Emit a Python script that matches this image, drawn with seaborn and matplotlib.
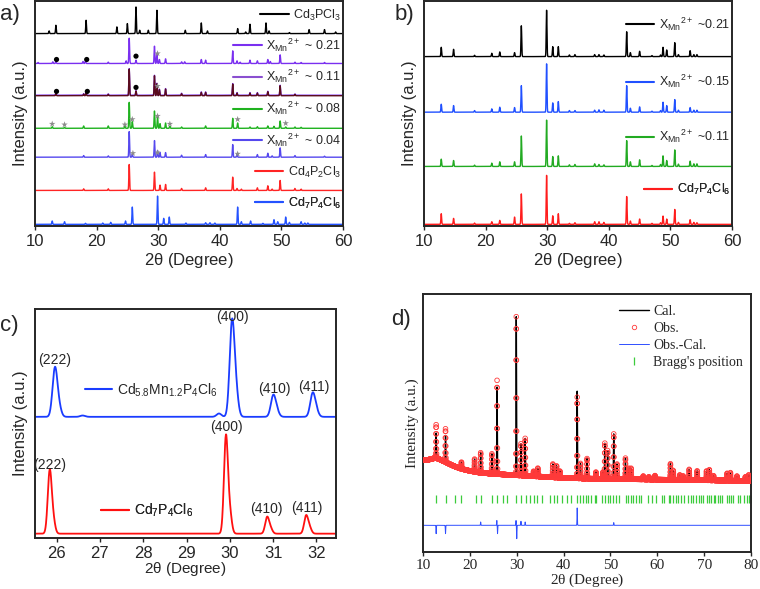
import numpy as np
import seaborn as sns
import matplotlib
matplotlib.use('Agg')
import matplotlib.pyplot as plt
from matplotlib.lines import Line2D

# ---------------- data ----------------
# panel a: peak positions (2theta) / heights for each stacked trace, plus baseline offsets
a_labels = [r'Cd$_3$PCl$_3$', r'X$_{Mn}$$^{2+}$ ~ 0.21', r'X$_{Mn}$$^{2+}$ ~ 0.11',
            r'X$_{Mn}$$^{2+}$ ~ 0.08', r'X$_{Mn}$$^{2+}$ ~ 0.04', r'Cd$_4$P$_2$Cl$_3$',
            r'Cd$_7$P$_4$Cl$_6$']
a_offsets = [579, 489, 392, 294, 207, 107, 5]

cd3_pos = [12.3, 13.4, 18.3, 23.3, 25.0, 26.4, 27.0, 28.4, 29.8, 34.4, 37.0, 38.0, 42.9, 44.2,
           44.9, 47.5, 48.0, 51.3, 54.5, 57.0, 58.8]
cd3_h = [8, 25, 40, 20, 30, 80, 10, 10, 70, 10, 32, 8, 15, 5, 28, 32, 8, 3, 12, 12, 5]

x21_pos = [10.5, 12.9, 13.4, 17.8, 18.2, 21.9, 24.8, 25.3, 26.4, 29.4, 29.8, 30.2, 31.2, 33.8,
           34.3, 37.0, 37.7, 42.1, 42.8, 43.3, 44.9, 46.1, 47.8, 48.2, 49.8, 52.2, 53.2, 57.0]
x21_h = [3, 5, 6, 6, 8, 4, 8, 76, 10, 52, 30, 12, 14, 5, 5, 12, 10, 38, 8, 4, 10, 8, 12, 6, 26,
         4, 3, 3]

x11_pos = [13.4, 17.9, 18.3, 21.9, 25.3, 26.4, 29.4, 29.8, 30.2, 31.2, 33.8, 37.0, 37.7, 42.1,
           42.8, 44.9, 46.1, 47.8, 49.8, 52.2]
x11_h = [6, 5, 8, 4, 80, 14, 60, 36, 18, 20, 6, 10, 10, 35, 8, 8, 8, 12, 30, 4]

x08_pos = [12.8, 14.8, 17.9, 21.9, 24.6, 25.3, 25.8, 29.4, 29.9, 30.3, 31.2, 31.9, 33.8, 37.7,
           42.1, 42.9, 44.9, 46.1, 47.8, 48.8, 49.8, 50.7, 52.2, 53.2]
x08_h = [5, 3, 7, 7, 6, 78, 20, 52, 36, 14, 16, 6, 4, 7, 30, 16, 4, 5, 7, 6, 22, 4, 4, 3]

x04_pos = [17.9, 21.9, 25.3, 25.8, 29.4, 29.9, 30.3, 31.2, 33.8, 37.7, 42.1, 42.8, 46.1, 47.8,
           48.5, 49.8, 52.2, 57.0]
x04_h = [5, 4, 77, 10, 50, 20, 14, 14, 6, 8, 38, 10, 8, 12, 4, 28, 5, 3]

cd4_pos = [17.9, 21.9, 25.3, 29.4, 30.3, 31.2, 33.8, 37.7, 42.1, 42.8, 43.5, 46.1, 47.8, 48.5,
           49.8, 52.2, 53.2]
cd4_h = [5, 5, 78, 55, 16, 18, 6, 8, 40, 6, 4, 8, 14, 4, 30, 6, 4]

cd7_pos = [12.8, 14.8, 18.2, 21.0, 22.3, 24.7, 25.8, 29.9, 30.9, 31.8, 34.5, 37.7, 38.4, 39.2,
           42.9, 43.5, 45.0, 47.0, 48.8, 49.4, 50.7, 51.3, 53.2, 53.8, 54.3]
cd7_h = [10, 8, 3, 4, 6, 10, 52, 85, 18, 22, 4, 5, 5, 4, 52, 8, 10, 3, 14, 8, 22, 6, 8, 4, 4]

a_dots_x = [13.5, 18.4, 26.4, 13.5, 18.5, 26.4]
a_dots_y = [501, 501, 511, 405, 405, 417]
a_stars_x = [29.9, 29.9, 12.8, 14.8, 24.6, 25.8, 29.9, 31.9, 42.9, 50.7, 25.9, 29.9, 42.9]
a_stars_y = [519, 421, 307, 305, 305, 321, 331, 307, 321, 309, 219, 221, 217]

# panel b: Cd7P4Cl6-type pattern for each Mn content
b_labels = [r'X$_{Mn}$$^{2+}$ ~0.21', r'X$_{Mn}$$^{2+}$ ~0.15', r'X$_{Mn}$$^{2+}$ ~0.11',
            r'Cd$_7$P$_4$Cl$_6$']
b_offsets = [512, 344, 180, 5]
b_pos = [12.8, 14.8, 18.2, 21.0, 22.3, 24.7, 25.8, 29.9, 30.9, 31.8, 33.6, 34.5, 37.7, 38.4,
         39.2, 42.9, 43.5, 45.0, 47.0, 48.4, 48.8, 49.4, 50.7, 51.3, 53.2, 53.8, 54.3]
b_h021 = [28, 22, 4, 10, 14, 12, 93, 140, 30, 30, 5, 6, 6, 6, 5, 75, 12, 16, 3, 5, 28, 20, 42,
          6, 18, 6, 6]
b_h015 = [24, 20, 5, 10, 15, 14, 80, 146, 28, 32, 5, 5, 6, 7, 6, 80, 12, 16, 3, 5, 30, 20, 38,
          6, 14, 6, 6]
b_h011 = [22, 18, 4, 10, 14, 14, 92, 140, 30, 32, 5, 6, 8, 6, 5, 78, 14, 20, 3, 6, 32, 18, 50,
          7, 16, 8, 8]
b_h000 = [32, 18, 4, 8, 12, 22, 92, 148, 26, 32, 3, 5, 8, 8, 6, 84, 10, 16, 3, 5, 25, 16, 45,
          6, 14, 6, 5]

# panel c: zoom 25.5-32.5
c_red_pos = [25.84, 25.92, 29.91, 30.0, 30.86, 30.94, 31.76, 31.84]
c_red_h = [185, 40, 290, 60, 48, 15, 52, 18]
c_blue_pos = [25.96, 26.05, 26.6, 29.75, 30.05, 30.14, 31.0, 31.08, 31.91, 31.99]
c_blue_h = [142, 30, 4, 10, 275, 72, 60, 18, 66, 20]
c_red_base, c_blue_base = 13, 364
c_hkl = ['(222)', '(400)', '(410)', '(411)']
c_red_lab_x = [25.83, 29.92, 30.85, 31.77]
c_red_lab_y = [220, 332, 88, 90]
c_blue_lab_x = [25.95, 30.06, 31.02, 31.95]
c_blue_lab_y = [535, 665, 447, 453]

# panel d: Rietveld refinement
d_bg_x = [10, 11, 12.7, 13.5, 15, 16.5, 18, 20, 22, 25, 30, 35, 40, 45, 50, 55, 60, 65, 70, 75, 80]
d_bg_y = [275, 276, 282, 278, 268, 258, 250, 243, 238, 234, 230, 226, 222, 220, 219, 218, 217,
          216, 215, 214, 213]
d_pos = [12.8, 14.8, 18.2, 21.0, 22.3, 24.7, 25.8, 29.9, 30.9, 31.8, 33.6, 34.5, 37.7, 38.5,
         39.2, 42.9, 43.6, 45.0, 46.9, 48.4, 48.8, 49.4, 50.7, 51.4, 53.2, 53.9, 54.4, 57.0,
         58.2, 59.5, 62.8, 63.4, 64.8, 65.5, 66.8, 68.5, 70.5, 71.1, 72.0, 74.9, 75.6, 77.0,
         78.8, 79.5]
d_cal_h = [75, 80, 20, 38, 60, 60, 261, 475, 95, 112, 15, 25, 40, 35, 20, 261, 45, 60, 20, 20,
           107, 85, 135, 45, 63, 33, 33, 10, 8, 12, 48, 28, 15, 12, 32, 28, 28, 32, 14, 22, 24,
           14, 12, 18]
d_obs_h = [100, 100, 20, 38, 60, 60, 281, 475, 95, 112, 15, 25, 40, 35, 20, 243, 45, 60, 20,
           20, 107, 85, 135, 45, 63, 33, 33, 10, 8, 12, 48, 28, 15, 12, 32, 28, 28, 32, 14, 22,
           24, 14, 12, 18]
d_diff_pos = [12.8, 14.8, 22.3, 25.75, 25.9, 29.85, 30.0, 30.9, 31.8, 42.9, 50.7]
d_diff_amp = [-25, -25, 10, 15, -25, 15, -40, 12, 10, 52, 8]
d_diff_base = 80
d_bragg_y = 160
d_bragg = [12.85, 15.0, 16.8, 18.2, 21.25, 22.3, 24.8, 25.8, 27.0, 28.0, 29.9, 31.0, 31.9, 32.8,
           33.6, 34.4, 35.3, 37.1, 37.9, 38.6, 39.6, 40.8, 41.5, 42.9, 43.5, 44.2, 44.8, 45.3,
           45.9, 46.7, 47.0, 48.2, 48.8, 49.4, 50.0, 50.6, 51.2, 51.9, 53.3, 53.8, 54.3, 54.9,
           55.4, 56.0, 56.6, 58.1, 58.8, 59.7, 60.9, 61.4, 62.4, 62.8, 63.4, 63.9, 64.5, 65.1,
           65.6, 66.6, 67.1, 67.7, 68.2, 68.8, 69.3, 69.7, 70.5, 71.0, 71.5, 72.0, 72.4, 72.9,
           73.4, 73.9, 74.8, 75.3, 75.8, 76.2, 77.2, 77.7, 78.6, 79.1, 79.5, 79.9]


def profile(x, pos, h, sigma):
    # sum of gaussian peaks
    y = np.zeros_like(x)
    for p, hh in zip(pos, h):
        y += hh * np.exp(-0.5 * ((x - p) / sigma) ** 2)
    return y


def trace_legend(ax, color, label, y, fs, loc='center right', x=1.0, hl=2.3):
    leg = ax.legend([Line2D([], [], color=color, lw=1.5)], [label], loc=loc,
                    bbox_to_anchor=(x, y), frameon=False, fontsize=fs, handlelength=hl,
                    handletextpad=0.35, borderaxespad=0, borderpad=0.15)
    ax.add_artist(leg)


sns.set_theme(style='ticks')
plt.rcParams['font.family'] = ['Liberation Sans', 'DejaVu Sans']
plt.rcParams['mathtext.default'] = 'regular'
plt.rcParams['axes.linewidth'] = 1.4

fig = plt.figure(figsize=(7.6, 5.89), dpi=100)
ax_a = fig.add_axes([0.046, 0.6163, 0.4053, 0.3820])
ax_b = fig.add_axes([0.5579, 0.6163, 0.4053, 0.3820])
ax_c = fig.add_axes([0.046, 0.0866, 0.3960, 0.3888])
ax_d = fig.add_axes([0.5566, 0.0628, 0.4316, 0.4380])

# ---------------- panel a ----------------
xa = np.arange(10, 60.001, 0.01)
a_peaks = [(cd3_pos, cd3_h), (x21_pos, x21_h), (x11_pos, x11_h), (x08_pos, x08_h),
           (x04_pos, x04_h), (cd4_pos, cd4_h), (cd7_pos, cd7_h)]
a_colors = ['#000000', '#7a2ff0', '#5a0c1c', '#1fb21f', '#5548ee', '#ff2424', '#2452ff']
a_leg_colors = ['#000000', '#7a2ff0', '#8a4fd0', '#1fb21f', '#5548ee', '#ff2424', '#2452ff']
a_leg_y = [0.938, 0.804, 0.663, 0.522, 0.381, 0.240, 0.102]
for (pos, h), off, col in zip(a_peaks, a_offsets, a_colors):
    ya = off + profile(xa, pos, h, 0.06)
    if col == '#5a0c1c':
        sns.lineplot(x=xa, y=ya + 1.5, ax=ax_a, color='#7a2ff0', lw=1.0, estimator=None)
    sns.lineplot(x=xa, y=ya, ax=ax_a, color=col, lw=1.0, estimator=None)
for lab, col, yl in zip(a_labels, a_leg_colors, a_leg_y):
    trace_legend(ax_a, col, lab, yl, 9)
sns.scatterplot(x=a_dots_x, y=a_dots_y, ax=ax_a, color='black', s=14, marker='o',
                edgecolor='none', zorder=5)
sns.scatterplot(x=a_stars_x, y=a_stars_y, ax=ax_a, color='#8c8c8c', s=24, marker='*',
                edgecolor='none', zorder=5)
ax_a.set(xlim=(10, 60), ylim=(0, 677), yticks=[])
ax_a.set_xticks(range(10, 61, 10))

# ---------------- panel b ----------------
b_heights = [b_h021, b_h015, b_h011, b_h000]
b_colors = ['#000000', '#2050ff', '#22aa22', '#ff1c1c']
b_leg_y = [0.897, 0.641, 0.397, 0.161]
for h, off, col in zip(b_heights, b_offsets, b_colors):
    sns.lineplot(x=xa, y=off + profile(xa, b_pos, h, 0.06), ax=ax_b, color=col, lw=1.0,
                 estimator=None)
for lab, col, yl in zip(b_labels, b_colors, b_leg_y):
    trace_legend(ax_b, col, lab, yl, 9)
ax_b.set(xlim=(10, 60), ylim=(0, 680), yticks=[])
ax_b.set_xticks(range(10, 61, 10))

# ---------------- panel c ----------------
xc = np.arange(25.5, 32.5, 0.005)
sns.lineplot(x=xc, y=c_blue_base + profile(xc, c_blue_pos, c_blue_h, 0.055), ax=ax_c,
             color='#1a3cff', lw=1.3, estimator=None)
sns.lineplot(x=xc, y=c_red_base + profile(xc, c_red_pos, c_red_h, 0.045), ax=ax_c,
             color='#ff1010', lw=1.3, estimator=None)
for lab, xl, yl in zip(c_hkl, c_blue_lab_x, c_blue_lab_y):
    ax_c.text(xl, yl, lab, ha='center', va='center', fontsize=10)
for lab, xl, yl in zip(c_hkl, c_red_lab_x, c_red_lab_y):
    ax_c.text(xl, yl, lab, ha='center', va='center', fontsize=10)
trace_legend(ax_c, '#1a3cff', r'Cd$_{5.8}$Mn$_{1.2}$P$_4$Cl$_6$', 0.647, 10,
             loc='center left', x=0.158, hl=2.0)
trace_legend(ax_c, '#ff1010', r'Cd$_7$P$_4$Cl$_6$', 0.121, 10, loc='center left', x=0.213,
             hl=2.0)
ax_c.set(xlim=(25.5, 32.45), ylim=(0, 688), yticks=[])
ax_c.set_xticks(range(26, 33))

for ax in (ax_a, ax_b, ax_c):
    ax.tick_params(axis='x', labelsize=12, length=3, width=1, pad=3)
    ax.set_xlabel(r'2$\theta$ (Degree)', fontsize=12, labelpad=1)
    ax.set_ylabel('Intensity (a.u.)', fontsize=12, labelpad=5)
ax_c.xaxis.labelpad = -1
ax_c.xaxis.label.set_size(11)

# ---------------- panel d ----------------
serif = ['Liberation Serif', 'DejaVu Serif']
xd = np.arange(10, 80.001, 0.02)
bg = np.interp(xd, d_bg_x, d_bg_y)
y_cal = bg + profile(xd, d_pos, d_cal_h, 0.05)
y_obs = bg + profile(xd, d_pos, d_obs_h, 0.05)
y_diff = d_diff_base + profile(xd, d_diff_pos, d_diff_amp, 0.04)
sns.lineplot(x=xd, y=y_cal, ax=ax_d, color='black', lw=1.0, estimator=None, zorder=2)
sns.scatterplot(x=xd, y=y_obs, ax=ax_d, marker='o', s=11, facecolor='none',
                edgecolor='#ff3a3a', linewidth=0.6, zorder=3)
sns.lineplot(x=xd, y=y_diff, ax=ax_d, color='#2f4fff', lw=0.7, estimator=None)
sns.scatterplot(x=d_bragg, y=[d_bragg_y] * len(d_bragg), ax=ax_d, marker='|', s=40,
                color='#3ccc3c', linewidth=0.9)
ax_d.set(xlim=(10, 80), ylim=(0, 773), yticks=[])
ax_d.set_xticks(range(10, 81, 10))
ax_d.tick_params(axis='x', labelsize=11, length=3, width=1, pad=2)
for t in ax_d.get_xticklabels():
    t.set_family(serif)
ax_d.set_xlabel(r'2$\theta$ (Degree)', fontsize=11, family=serif, labelpad=0)
ax_d.set_ylabel('Intensity (a.u.)', fontsize=11, family=serif, labelpad=3)
d_handles = [Line2D([], [], color='black', lw=1.0),
             Line2D([], [], color='#ff3a3a', marker='o', ls='none', mfc='none', ms=3.2, mew=0.6),
             Line2D([], [], color='#2f4fff', lw=0.7),
             Line2D([], [], color='#3ccc3c', marker='|', ls='none', ms=6, mew=0.9)]
ax_d.legend(d_handles, ['Cal.', 'Obs.', 'Obs.-Cal.', "Bragg's position"], loc='upper left',
            bbox_to_anchor=(0.575, 0.985), frameon=False, handlelength=2.2, borderpad=0,
            handletextpad=0.3, labelspacing=0.3, prop={'family': serif, 'size': 10})

# panel letters
fig.text(0.0, 0.975, 'a)', fontsize=16, va='center', ha='left')
fig.text(0.519, 0.975, 'b)', fontsize=16, va='center', ha='left')
fig.text(0.0, 0.448, 'c)', fontsize=16, va='center', ha='left')
fig.text(0.515, 0.458, 'd)', fontsize=16, va='center', ha='left')

fig.savefig('out.png', dpi=100)
plt.close(fig)
